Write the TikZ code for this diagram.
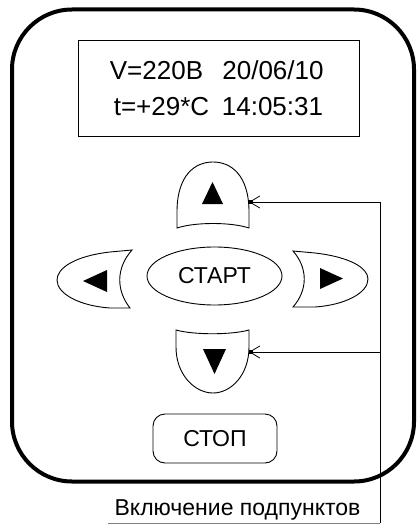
\documentclass[tikz,border=0pt]{standalone}
\usepackage{fontspec}
\setmainfont{Liberation Sans}
\usetikzlibrary{arrows.meta,shapes.geometric}
\begin{document}
\begin{tikzpicture}[x=1pt,y=-1pt,
  btn/.style={draw, line width=0.9pt, fill=white},
  conn/.style={line width=0.8pt},
  barbtip/.style={-{Straight Barb[length=10pt,width=12pt,line width=0.8pt]}},
  dtext/.style={font=\fontsize{26}{30}\selectfont, inner sep=0pt, anchor=base},
  btext/.style={font=\fontsize{23}{26}\selectfont},
]
\useasboundingbox (0,0) rectangle (417,524);
% outer body
\draw[line width=4pt, rounded corners=60pt] (12,9.5) rectangle (414,481.5);
% display
\node[draw, line width=0.9pt, minimum width=281pt, minimum height=96pt, inner sep=0pt] (disp) at (218.5,88) {};
\node[dtext] (volt) at (156.5,80) {V=220В};
\node[dtext] (date) at (273,80) {20/06/10};
\node[dtext] (temp) at (161.5,115) {t=+29*C};
\node[dtext] (time) at (272.5,115) {14:05:31};
% up button
\draw[btn] (177,212) .. controls (177,175) and (195,162) .. (213,162) .. controls (231,162) and (249,175) .. (249,212) -- (249,228) .. controls (231,222) and (195,222) .. (177,228) -- cycle;
\fill (212.5,182) -- (223,204) -- (202,204) -- cycle;
\coordinate (upR) at (249,202);
% down button
\draw[btn] (176,330) .. controls (194,335) and (231,335) .. (249,330) -- (249,347) .. controls (249,375) and (231,393) .. (213,393) .. controls (195,393) and (176,375) .. (176,347) -- cycle;
\fill (203,349) -- (226,349) -- (214.5,374) -- cycle;
\coordinate (downR) at (249,352);
% left button
\draw[btn] (132,250) -- (110,252) .. controls (75,256) and (57,268) .. (57,280) .. controls (57,294) and (80,306) .. (110,308) -- (130,308) .. controls (116,290) and (116,268) .. (132,250) -- cycle;
\fill (83,281) -- (107,270) -- (107,292) -- cycle;
% right button
\draw[btn] (293,251) -- (315,253) .. controls (350,257) and (368,268) .. (368,279) .. controls (368,293) and (345,305) .. (315,307) -- (293,307) .. controls (308,290) and (308,268) .. (293,251) -- cycle;
\fill (343,278.5) -- (320,268) -- (320,289) -- cycle;
% start
\node[draw, ellipse, line width=0.9pt, minimum width=135pt, minimum height=58pt, inner sep=0pt, btext] (start) at (214.5,276) {СТАРТ};
% stop
\node[draw, line width=0.9pt, rounded corners=12pt, minimum width=124pt, minimum height=49pt, inner sep=0pt, btext] (stop) at (215,438.5) {СТОП};
% connectors
\coordinate (b1) at (380,202);
\coordinate (b2) at (380,352);
\coordinate (b3) at (380,523);
\coordinate (b4) at (108,523);
\draw[conn] (b3) -- (b1);
\draw[conn, barbtip] (b1) -- (upR);
\draw[conn, barbtip] (b2) -- (downR);
\fill (upR) ++(0,-1.75) rectangle ++(3.5,3.5);
\fill (downR) ++(0,-1.75) rectangle ++(3.5,3.5);
\draw[gray, line width=0.8pt] (b4) -- (b3);
\node[btext, inner sep=0pt, anchor=base] (cap) at (237.5,515) {Включение подпунктов};
\end{tikzpicture}
\end{document}
